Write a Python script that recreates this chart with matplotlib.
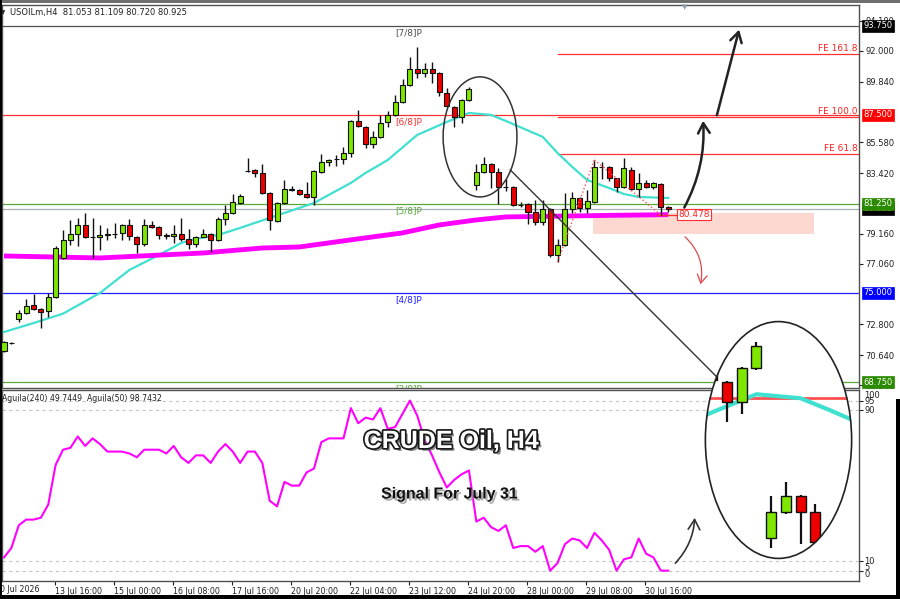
"""
USOIL H4 chart with Murrey levels, FE targets and a zoomed inset.
"""

import numpy as np
import matplotlib
matplotlib.use("Agg")
import matplotlib.pyplot as plt
import matplotlib.patches as mpatches
import matplotlib.patheffects as pe
from matplotlib.transforms import blended_transform_factory

plt.rcParams.update({
    "font.family": "DejaVu Sans",
    "font.size": 6,
    "figure.facecolor": "white",
    "axes.facecolor": "white",
})

W, H = 900, 599

# ── data ────────────────────────────────────────────────────────────────
opens = [70.93, 71.52, 73.18, 73.62, 74.16, 73.85, 73.75, 74.72, 77.46, 78.73,
         79.16, 79.78, 78.95, 78.95, 79.07, 79.12, 79.22, 79.78, 78.95, 78.44,
         79.78, 79.64, 79.04, 79.02, 79.16, 78.80, 78.44, 78.95, 79.16, 78.73,
         80.20, 80.62, 81.32, 83.55, 83.64, 83.43, 82.02, 80.06, 81.32, 82.23,
         82.23, 81.95, 81.74, 83.50, 84.20, 84.38, 84.41, 84.83, 87.08, 86.66,
         85.46, 85.96, 87.01, 87.50, 88.41, 89.61, 90.73, 90.45, 90.73, 90.45,
         89.05, 88.06, 87.36, 88.55, 82.59, 83.50, 84.06, 83.50, 82.47, 82.44,
         81.20, 81.25, 80.69, 79.99, 80.90, 77.67, 78.37, 80.90, 81.67, 80.97,
         81.39, 83.85, 83.85, 83.08, 82.44, 83.64, 82.30, 82.73, 82.44, 82.66,
         81.053]
highs = [71.65, 71.58, 73.80, 74.58, 74.93, 73.95, 75.00, 78.30, 79.43, 80.13,
         80.27, 80.62, 80.27, 79.78, 79.57, 79.92, 79.85, 80.20, 79.02, 80.20,
         80.06, 79.70, 79.22, 79.78, 80.27, 79.50, 79.02, 79.50, 79.22, 80.34,
         81.18, 81.98, 81.95, 84.48, 83.70, 84.06, 82.09, 81.40, 82.94, 82.52,
         82.30, 82.80, 83.64, 84.76, 84.41, 84.69, 85.25, 87.15, 87.85, 86.73,
         86.38, 87.50, 87.78, 88.90, 90.03, 91.57, 92.28, 91.15, 91.22, 90.50,
         89.40, 88.10, 88.60, 89.47, 84.06, 84.55, 84.10, 83.78, 83.01, 82.50,
         81.39, 81.30, 81.53, 81.53, 80.95, 78.80, 82.02, 82.09, 81.74, 82.23,
         84.34, 84.20, 83.90, 83.10, 84.48, 83.85, 83.43, 82.94, 82.80, 82.70,
         81.109]
lows = [70.85, 71.42, 72.96, 73.55, 73.80, 72.54, 73.32, 74.65, 77.40, 78.37,
        78.30, 78.88, 77.46, 78.02, 78.73, 78.88, 78.73, 78.73, 77.81, 78.30,
        79.57, 78.80, 78.80, 78.52, 78.66, 78.09, 78.23, 78.90, 77.88, 78.66,
        79.78, 80.55, 81.25, 83.50, 83.15, 81.98, 79.43, 79.99, 81.25, 82.16,
        81.88, 81.67, 81.18, 83.43, 83.92, 83.92, 84.06, 84.55, 86.66, 85.18,
        85.18, 85.90, 86.66, 87.45, 88.35, 89.55, 90.10, 90.17, 89.75, 88.83,
        88.06, 86.66, 86.94, 88.50, 82.23, 83.45, 82.37, 81.25, 82.16, 81.10,
        81.04, 79.85, 79.78, 79.78, 77.53, 77.18, 78.30, 80.62, 80.69, 80.62,
        81.35, 83.01, 82.87, 82.09, 82.40, 82.25, 81.74, 82.40, 82.30, 80.48,
        80.720]
closes = [71.56, 71.47, 73.60, 74.12, 73.88, 73.69, 74.74, 78.16, 78.73, 79.16,
          79.78, 78.95, 78.92, 79.09, 79.12, 79.16, 79.78, 79.02, 78.44, 79.78,
          79.64, 79.09, 79.00, 79.16, 78.80, 78.44, 78.95, 79.16, 78.73, 80.20,
          80.62, 81.39, 81.81, 83.57, 83.43, 82.02, 80.13, 81.32, 82.30, 82.26,
          81.95, 81.74, 83.57, 84.20, 84.34, 84.41, 84.83, 87.08, 86.73, 85.46,
          85.96, 86.94, 87.50, 88.41, 89.61, 90.73, 90.45, 90.73, 90.45, 89.12,
          88.13, 87.36, 88.55, 89.33, 83.50, 84.06, 83.50, 82.44, 82.42, 81.18,
          81.16, 80.69, 79.99, 80.90, 77.67, 78.37, 80.90, 81.67, 80.97, 81.46,
          83.85, 83.82, 83.08, 82.44, 83.78, 82.30, 82.73, 82.44, 82.73, 81.04,
          80.925]

# fast moving average (cyan), read at these bars
ma_fast_idx = [0, 4, 8, 13, 17, 21, 24, 26, 29, 32, 36, 42, 47, 49, 52, 56, 60,
               63, 66, 68, 73, 75, 77, 79, 82, 84, 86, 90]
ma_fast_val = [72.26, 72.89, 73.55, 75.00, 76.62, 77.67, 78.51, 78.80, 79.07,
               79.57, 80.27, 81.32, 82.73, 83.43, 84.34, 86.10, 87.01, 87.64,
               87.50, 87.08, 85.96, 84.83, 83.85, 82.94, 82.37, 81.95, 81.74,
               81.67]
# slow moving average (magenta)
ma_slow_idx = [0, 13, 27, 35, 40, 47, 54, 59, 64, 68, 77, 82, 90]
ma_slow_val = [77.60, 77.46, 77.81, 78.16, 78.23, 78.73, 79.22, 79.78, 80.13,
               80.34, 80.41, 80.45, 80.50]

# Aguila(240) oscillator
aguila = [12, 17, 29, 32, 32, 33, 40, 61, 69, 70, 76, 71, 75, 72, 68, 68, 68, 67,
          65, 69, 69, 69, 67, 71, 65, 62, 66, 66, 62, 68, 72, 68, 62, 68, 68, 62,
          42, 39, 52, 50, 50, 57, 59, 73, 75, 75, 75, 91, 83, 86, 85, 91, 80, 81,
          88, 95, 87, 74, 66, 57, 49, 53, 56, 58, 31, 33, 28, 26, 29, 17, 18, 18,
          15, 18, 5, 9, 19, 22, 21, 17, 25, 21, 16, 5, 11, 12, 22, 14, 12, 5, 5]

# Murrey levels and FE targets
murrey_vals = [93.75, 87.50, 81.25, 75.00, 68.75]
murrey_names = ["[7/8]P", "[6/8]P", "[5/8]P", "[4/8]P", "[3/8]P"]
murrey_colors = ["#505050", "#ff3030", "#5aa83a", "#2020ff", "#5aa83a"]
box_colors = ["#000000", "#ff0000", "#2a8a00", "#0000ff", "#2a8a00"]
fe_vals = [91.78, 87.36, 84.76]
fe_names = ["FE 161.8", "FE 100.0", "FE 61.8"]
fe_start = 75
bid = 80.925
zone_x = (79.8, 109.8)
zone_y = (79.16, 80.62)
ma_slow_last = 80.478
fe_a = (75, 77.18)
fe_b = (80, 84.34)
fe_c = (89, 80.48)

price_ticks = [94.10, 92.00, 89.84, 85.58, 83.42, 79.16, 77.06, 72.80, 70.64, 68.54]
date_pos = [7, 15, 23, 31, 39, 47, 55, 63, 71, 79, 87]
date_labels = ["13 Jul 16:00", "15 Jul 00:00", "16 Jul 08:00", "17 Jul 16:00",
               "20 Jul 20:00", "22 Jul 04:00", "23 Jul 12:00", "24 Jul 20:00",
               "28 Jul 00:00", "29 Jul 08:00", "30 Jul 16:00"]

GREEN = "#7fe600"
RED = "#ee0000"
CYAN = "#40e0d0"
MAGENTA = "#ff00ff"


def px_box(x0, y0, x1, y1):
    return [x0 / W, 1 - y1 / H, (x1 - x0) / W, (y1 - y0) / H]


def draw_candles(axis, idx, wick_lw=1.0, edge_lw=0.8, min_h=0.04, clip=None):
    o = np.asarray(opens)[idx]
    h = np.asarray(highs)[idx]
    l = np.asarray(lows)[idx]
    c = np.asarray(closes)[idx]
    colors = np.where(c >= o, GREEN, RED)
    wicks = axis.vlines(idx, l, h, color="#111111", lw=wick_lw, zorder=4)
    bars = axis.bar(idx, np.maximum(np.abs(c - o), min_h), bottom=np.minimum(o, c),
                    width=0.68, color=colors, edgecolor="#111111",
                    linewidth=edge_lw, zorder=5)
    if clip is not None:
        wicks.set_clip_path(clip)
        for b in bars:
            b.set_clip_path(clip)


fig = plt.figure(figsize=(W / 100, H / 100), dpi=100)

ax = fig.add_axes(px_box(2, 5, 859, 388))
ind = fig.add_axes(px_box(2, 390, 859, 581))
xlim = (-0.27, 115.85)

# ── main price panel ────────────────────────────────────────────────────
n = len(closes)
bars_idx = np.arange(n)

ax.add_patch(mpatches.Rectangle((zone_x[0], zone_y[0]), zone_x[1] - zone_x[0],
                                zone_y[1] - zone_y[0], facecolor="#fdd8d0",
                                edgecolor="none", zorder=1))

ax.axhline(bid, color="#a8b0b8", lw=0.9, zorder=2)
for v, col in zip(murrey_vals, murrey_colors):
    ax.axhline(v, color=col if v != 93.75 else "#505050", lw=0.9, zorder=2)
for v in fe_vals:
    ax.plot([fe_start, xlim[1]], [v, v], color="#ff3030", lw=0.9, zorder=2)

ax.plot(ma_fast_idx, ma_fast_val, color=CYAN, lw=1.6, zorder=3)
ax.plot(ma_slow_idx, ma_slow_val, color=MAGENTA, lw=3.5, zorder=3,
        solid_capstyle="butt")
ax.plot([ma_slow_idx[-1] - 1.5, 92.1], [ma_slow_last, ma_slow_last],
        color="#ff3030", lw=0.9, zorder=3)

draw_candles(ax, bars_idx)

ax.plot([fe_a[0], fe_b[0]], [fe_a[1], fe_b[1]], color="#ff5050", lw=1, ls=":", zorder=6)
ax.plot([fe_b[0], fe_c[0]], [fe_b[1], fe_c[1]], color="#ff5050", lw=1, ls=":", zorder=6)

for v, name, col in zip(murrey_vals, murrey_names, murrey_colors):
    ax.annotate(name, (54.8, v), xytext=(0, -1.5), textcoords="offset points",
                ha="center", va="top", color=col, fontsize=6.5, zorder=6,
                annotation_clip=False, clip_on=True)
for v, name in zip(fe_vals, fe_names):
    ax.annotate(name, (1.0, v), xycoords=("axes fraction", "data"),
                xytext=(-1, 0.5), textcoords="offset points",
                ha="right", va="bottom", color="#ff2020", fontsize=6.5)

ax.text(93.5, 80.52, f"{ma_slow_last:.3f}", color="#ff2020", fontsize=6.5,
        ha="center", va="center", zorder=7,
        bbox=dict(boxstyle="square,pad=0.15", fc="white", ec="#ff3030", lw=0.8))

# annotations: ellipse, link line, arrows
ax.add_patch(mpatches.Ellipse((64.5, 85.96), 10.0, 8.43, fill=False,
                              ec="#333333", lw=1.1, zorder=6))
ax.plot([68.6, 96.6], [83.64, 69.10], color="#333333", lw=1, zorder=6,
        clip_on=False)
arrow_kw = dict(arrowstyle="->,head_length=0.6,head_width=0.35",
                mutation_scale=12, zorder=7, clip_on=False)
ax.add_patch(mpatches.FancyArrowPatch((92.0, 80.83), (94.7, 87.29),
                                      connectionstyle="arc3,rad=0.15",
                                      color="#222222", lw=1.8, **arrow_kw))
ax.add_patch(mpatches.FancyArrowPatch((96.5, 87.29), (99.7, 93.68),
                                      color="#222222", lw=1.8, **arrow_kw))
ax.add_patch(mpatches.FancyArrowPatch((92.0, 79.07), (94.3, 75.42),
                                      connectionstyle="arc3,rad=-0.3",
                                      color="#e04848", lw=0.9,
                                      arrowstyle="->,head_length=0.5,head_width=0.3",
                                      mutation_scale=12, zorder=7))

ax.set_xlim(*xlim)
ax.set_ylim(68.33, 95.22)
ax.set_xticks([])
ax.yaxis.tick_right()
ax.set_yticks(price_ticks)
ax.set_yticklabels([f"{v:.3f}" for v in price_ticks])
ax.tick_params(axis="y", length=3, pad=1.5, labelsize=6, colors="#202020")

# price boxes on the right scale
tr = blended_transform_factory(ax.transAxes, ax.transData)
box_items = [(bid, "#000000")] + list(zip(murrey_vals, box_colors))
for v, col in box_items:
    ax.text(1.0055, v, f"{v:.3f}", transform=tr, ha="left", va="center",
            fontsize=6, color="white", clip_on=False, zorder=8,
            bbox=dict(boxstyle="square,pad=0.18", fc=col, ec=col, lw=0.5))

# ── indicator panel ─────────────────────────────────────────────────────
for v in [95, 90, 10, 5]:
    ind.axhline(v, color="#c4c4c4", lw=0.8, ls=(0, (3, 3)), zorder=1)
ind.plot(bars_idx, aguila, color=MAGENTA, lw=1.5, zorder=3)
ind.add_patch(mpatches.FancyArrowPatch((90.7, 7.9), (93.6, 34.4),
                                       connectionstyle="arc3,rad=0.2",
                                       color="#333333", lw=1.2, **arrow_kw))
ind.set_xlim(*xlim)
ind.set_ylim(-0.48, 100.6)
ind.yaxis.tick_right()
ind.set_yticks([95, 90, 10, 5])
ind.set_yticklabels([])
ind.tick_params(axis="y", length=3, colors="#202020")
itr = blended_transform_factory(ind.transAxes, ind.transData)
for v, lab in [(97.6, "100"), (94.6, "95"), (90, "90"), (10, "10"), (6.6, "5"), (3.2, "0")]:
    ind.text(1.006, v, lab, transform=itr, ha="left", va="center", fontsize=6,
             color="#202020", clip_on=False)

ind.set_xticks([p - 0.1 for p in date_pos])
ind.set_xticklabels(date_labels, ha="left")
ind.tick_params(axis="x", length=3, pad=1, labelsize=5.7, colors="#202020")
ind.text(-1.2, -0.02, "10 Jul 2026", transform=blended_transform_factory(ind.transData, ind.transAxes),
         ha="left", va="top", fontsize=5.7, color="#202020", clip_on=False)
ind.text(0.0, 0.955, "Aguila(240) 49.7449  Aguila(50) 98.7432",
         transform=ind.transAxes, ha="left", va="center", fontsize=5.6,
         color="#202020")

for a in (ax, ind):
    for s in a.spines.values():
        s.set_color("#505050")
        s.set_linewidth(1)

# ── zoomed inset inside ellipse ─────────────────────────────────────────
axi = fig.add_axes(px_box(705, 321, 852, 559), zorder=10)
axi.set_axis_off()
axi.patch.set_alpha(0)
ell = mpatches.Ellipse((0.5, 0.5), 1.0, 1.0, transform=axi.transAxes,
                       facecolor="white", edgecolor="none", zorder=0)
axi.add_patch(ell)
inset_idx = np.arange(59, 70)
l1, = axi.plot([59.5, 69.5], [87.5, 87.5], color="#ff5050", lw=2, zorder=2)
l2, = axi.plot(ma_fast_idx, ma_fast_val, color=CYAN, lw=3, zorder=3)
l1.set_clip_path(ell)
l2.set_clip_path(ell)
draw_candles(axi, inset_idx, wick_lw=1.6, edge_lw=1.0, min_h=0.06, clip=ell)
axi.add_patch(mpatches.Ellipse((0.5, 0.5), 0.995, 0.995, transform=axi.transAxes,
                               fill=False, edgecolor="#222222", lw=1.2, zorder=9,
                               clip_on=False))
axi.set_xlim(59.5, 69.5)
axi.set_ylim(81.86, 90.21)

# ── header, title and frame ─────────────────────────────────────────────
fig.text(10 / W, 1 - 13 / H, "USOILm,H4  81.053 81.109 80.720 80.925",
         fontsize=6, color="#202020", va="center", ha="left")
fig.text(3 / W, 1 - 13 / H, "▼", fontsize=4, color="#202020", va="center", ha="center")
fig.text(685 / W, 1 - 7 / H, "▼", fontsize=5, color="#8a9ab0", va="center", ha="center")

fig.text(451 / W, 1 - 441 / H, "CRUDE Oil, H4", fontsize=18, fontweight="bold",
         family="Liberation Sans", color="white", ha="center", va="center",
         zorder=12,
         path_effects=[pe.SimplePatchShadow(offset=(2, -2), shadow_rgbFace="#555555", alpha=0.7),
                       pe.Stroke(linewidth=2.5, foreground="#1a1a1a"), pe.Normal()])
fig.text(450 / W, 1 - 494 / H, "Signal For July 31", fontsize=11.5, fontweight="bold",
         family="Liberation Sans", color="#111111", ha="center", va="center",
         zorder=12,
         path_effects=[pe.SimplePatchShadow(offset=(1.5, -1.5), shadow_rgbFace="#999999", alpha=0.8),
                       pe.Normal()])

fig.patches.extend([
    mpatches.Rectangle((0, 1 - 3 / H), 1, 3 / H, transform=fig.transFigure,
                       facecolor="#6e6e6e", edgecolor="none"),
    mpatches.Rectangle((0, 0), 1.5 / W, 1, transform=fig.transFigure,
                       facecolor="black", edgecolor="none"),
    mpatches.Rectangle((0, 0), 1, 4 / H, transform=fig.transFigure,
                       facecolor="black", edgecolor="none"),
    mpatches.Rectangle((1 - 4 / W, 0), 4 / W, 200 / H, transform=fig.transFigure,
                       facecolor="black", edgecolor="none"),
])

fig.savefig("out.png", dpi=100)
